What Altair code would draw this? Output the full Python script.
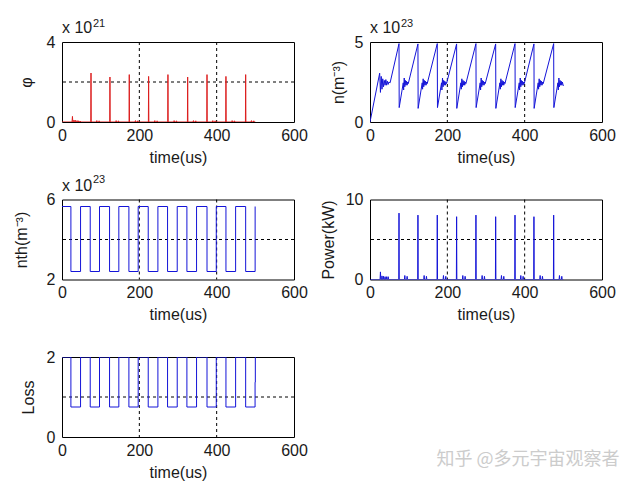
import altair as alt
import pandas as pd

FONT = "Liberation Sans"
BLUE = "#1414d8"
RED = "#dc1e1e"
INK = "#1a1a1a"

# ---------------- data ----------------
x_ticks = [0, 200, 400, 600]
x_grid = [200, 400]

# giant pulses (photon density x1e21, power kW)
pulse_t = [75, 124, 174, 224, 274, 325, 375, 424, 475]
phi_peak = [2.45, 2.25, 2.37, 2.28, 2.37, 2.25, 2.37, 2.28, 2.37]
power_peak = [8.3, 8.05, 8.05, 7.85, 8.05, 7.85, 8.05, 7.85, 8.05]

# small relaxation bumps
bump_t = [27, 31, 35, 39, 43, 47, 90, 96, 140, 146, 190, 196, 240, 246,
          290, 296, 340, 346, 390, 396, 440, 446, 490, 496]
phi_bump = [0.28, 0.10, 0.08, 0.07, 0.06, 0.05, 0.07, 0.06, 0.07, 0.06, 0.07, 0.06,
            0.07, 0.06, 0.07, 0.06, 0.07, 0.06, 0.07, 0.06, 0.07, 0.06, 0.07, 0.06]
power_bump = [0.95, 0.45, 0.40, 0.35, 0.35, 0.35, 0.50, 0.40, 0.50, 0.40, 0.50, 0.40,
              0.50, 0.40, 0.50, 0.40, 0.50, 0.40, 0.50, 0.40, 0.50, 0.40, 0.50, 0.40]

# population inversion n (x1e23)
n_t = [0, 25, 27, 29, 31, 33, 35, 37, 39, 41, 43, 45, 47, 49, 52, 75,
       75.5, 86, 87, 88.5, 90, 91.5, 93, 94.5, 96, 97.5, 99, 124,
       124.5, 135, 136, 137.5, 139, 140.5, 142, 143.5, 145, 146.5, 148, 174,
       174.5, 185, 186, 187.5, 189, 190.5, 192, 193.5, 195, 196.5, 198, 224,
       224.5, 235, 236, 237.5, 239, 240.5, 242, 243.5, 245, 246.5, 248, 274,
       274.5, 285, 286, 287.5, 289, 290.5, 292, 293.5, 295, 296.5, 298, 325,
       325.5, 336, 337, 338.5, 340, 341.5, 343, 344.5, 346, 347.5, 349, 375,
       375.5, 386, 387, 388.5, 390, 391.5, 393, 394.5, 396, 397.5, 399, 424,
       424.5, 435, 436, 437.5, 439, 440.5, 442, 443.5, 445, 446.5, 448, 475,
       475.5, 486, 487, 488.5, 490, 491.5, 493, 494.5, 496, 497.5, 500]
n_v = [0, 3.05, 1.85, 2.85, 2.05, 2.7, 2.2, 2.6, 2.3, 2.65, 2.3, 2.55, 2.35, 2.5, 2.45, 4.9,
       0.9, 2.45, 2.0, 2.75, 2.2, 2.6, 2.3, 2.55, 2.3, 2.5, 2.4, 4.88,
       0.85, 2.45, 2.05, 2.7, 2.2, 2.6, 2.3, 2.55, 2.3, 2.5, 2.4, 4.9,
       0.9, 2.45, 2.0, 2.75, 2.2, 2.6, 2.3, 2.55, 2.3, 2.5, 2.4, 4.88,
       0.85, 2.45, 2.05, 2.7, 2.2, 2.6, 2.3, 2.55, 2.3, 2.5, 2.4, 4.9,
       0.9, 2.45, 2.0, 2.75, 2.2, 2.6, 2.3, 2.55, 2.3, 2.5, 2.4, 4.88,
       0.85, 2.45, 2.05, 2.7, 2.2, 2.6, 2.3, 2.55, 2.3, 2.5, 2.4, 4.9,
       0.9, 2.45, 2.0, 2.75, 2.2, 2.6, 2.3, 2.55, 2.3, 2.5, 2.4, 4.88,
       0.85, 2.45, 2.05, 2.7, 2.2, 2.6, 2.3, 2.55, 2.3, 2.5, 2.4, 4.9,
       0.9, 2.45, 2.0, 2.75, 2.2, 2.6, 2.3, 2.55, 2.3, 2.5, 2.25]

# threshold inversion nth (x1e23), step changes
nth_t = [0, 23, 48, 73, 97, 123, 147, 173, 197, 223, 248, 273, 298, 323, 348,
         375, 399, 424, 449, 475, 499.5]
nth_v = [5.65, 2.4, 5.65, 2.4, 5.65, 2.4, 5.65, 2.4, 5.65, 2.4, 5.65, 2.4, 5.65,
         2.4, 5.65, 2.4, 5.65, 2.4, 5.65, 2.4, 5.65]

# cavity loss, step changes
loss_t = [0, 23, 48, 73, 97, 123, 147, 173, 197, 223, 248, 273, 298, 323, 348,
          375, 399, 424, 449, 475, 499.3, 500]
loss_v = [2, 0.75, 2, 0.75, 2, 0.75, 2, 0.75, 2, 0.75, 2, 0.75, 2, 0.75, 2,
          0.75, 2, 0.75, 2, 0.75, 1.37, 2]


def spikes_table(pt, ph, bt, bh, t_end=500):
    ev = [(t, h, 0.6) for t, h in zip(pt, ph)] + [(t, h, 1.0) for t, h in zip(bt, bh)]
    ev.sort()
    ts, vs = [0.0], [0.0]
    for t, h, w in ev:
        ts += [t - w, t, t + w]
        vs += [0.0, h, 0.0]
    ts.append(t_end)
    vs.append(0.0)
    return pd.DataFrame({"t": ts, "v": vs, "i": list(range(len(ts)))})


def series(t, v):
    return pd.DataFrame({"t": t, "v": v, "i": list(range(len(t)))})


def panel(df, color, ydom, yticks, ygrid, ytitle, title_x, expo=None, expo_dy=-15,
          interp="linear", extra=None):
    xs = alt.Scale(domain=[0, 600], nice=False, zero=False)
    ys = alt.Scale(domain=ydom, nice=False, zero=False)
    line = alt.Chart(df).mark_line(color=color, strokeWidth=1, interpolate=interp,
                                   clip=True).encode(
        x=alt.X("t:Q", scale=xs,
                axis=alt.Axis(values=x_ticks, title="time(us)", titleY=35,
                              titleBaseline="middle", labelFlush=False,
                              labelOverlap=False, labelPadding=5, format="d")),
        y=alt.Y("v:Q", scale=ys,
                axis=alt.Axis(values=yticks, title=ytitle, titleX=title_x, titleY=40,
                              titleAlign="center", titleBaseline="middle",
                              titleAngle=270, labelFlush=False, labelOverlap=False,
                              labelPadding=7, format="d")),
        order="i:Q",
    )
    vg = alt.Chart(pd.DataFrame({"t": x_grid})).mark_rule(
        color="black", strokeDash=[3, 3], strokeWidth=1).encode(x=alt.X("t:Q", scale=xs))
    layers = [vg]
    if ygrid:
        hg = alt.Chart(pd.DataFrame({"v": ygrid})).mark_rule(
            color="black", strokeDash=[3, 3], strokeWidth=1).encode(y=alt.Y("v:Q", scale=ys))
        layers.append(hg)
    layers.append(line)
    if expo is not None:
        d = pd.DataFrame({"a": ["x 10"], "b": [expo]})
        layers.append(alt.Chart(d).mark_text(align="left", baseline="alphabetic", font=FONT,
                                             fontSize=16, color=INK).encode(
            x=alt.value(0), y=alt.value(-9), text="a:N"))
        layers.append(alt.Chart(d).mark_text(align="left", baseline="alphabetic", font=FONT,
                                             fontSize=11, color=INK).encode(
            x=alt.value(31), y=alt.value(expo_dy), text="b:N"))
    if extra is not None:
        layers.append(extra)
    return alt.layer(*layers).properties(width=232, height=80)


wm = alt.Chart(pd.DataFrame({"w": ["知乎 @多元宇宙观察者"]})).mark_text(
    align="center", baseline="middle", font="Noto Sans CJK SC", fontSize=18,
    color="#cccccc").encode(x=alt.value(466), y=alt.value(103), text="w:N")

p1 = panel(spikes_table(pulse_t, phi_peak, bump_t, phi_bump), RED, [0, 4], [0, 2, 4], [2],
           "φ", -36, expo="21", expo_dy=-15)
p2 = panel(series(n_t, n_v), BLUE, [0, 5], [0, 5], [], "n(m⁻³)", -32, expo="23",
           expo_dy=-15)
p3 = panel(series(nth_t, nth_v), BLUE, [2, 6], [2, 4, 6], [4], "nth(m⁻³)", -41,
           expo="23", expo_dy=-17, interp="step-after")
p4 = panel(spikes_table(pulse_t, power_peak, bump_t, power_bump), BLUE, [0, 10],
           [0, 5, 10], [5], "Power(kW)", -42)
p5 = panel(series(loss_t, loss_v), BLUE, [0, 2], [0, 1, 2], [1], "Loss", -34,
           interp="step-after", extra=wm)

chart = alt.concat(p1, p2, p3, p4, p5, columns=2,
                   spacing={"row": 77.5, "column": 76}, bounds="flush").properties(
    autosize=alt.AutoSizeParams(type="none"),
    padding={"left": 62, "top": 42, "right": 578, "bottom": 445},
    background="white",
).configure_view(stroke="black", strokeWidth=1).configure_axis(
    labelFont=FONT, labelFontSize=16, labelColor=INK,
    titleFont=FONT, titleFontSize=16, titleFontWeight="normal", titleColor=INK,
    grid=False, domain=False, ticks=False,
)

chart.save("out.html", embed_options={"renderer": "svg", "actions": False})
